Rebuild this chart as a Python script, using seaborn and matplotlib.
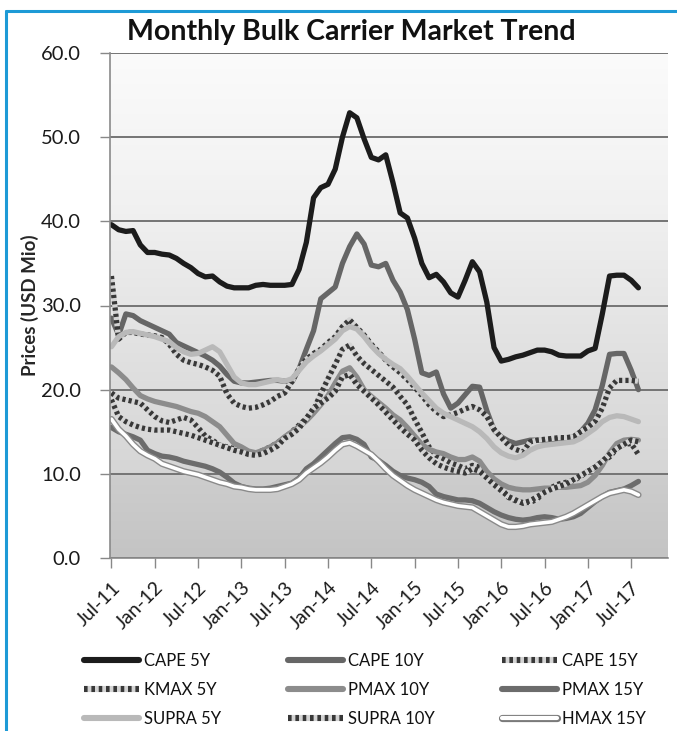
import numpy as np
import pandas as pd
import matplotlib
matplotlib.use("Agg")
import matplotlib.pyplot as plt
import seaborn as sns
from matplotlib import patheffects as pe
from matplotlib.lines import Line2D
from matplotlib.colors import LinearSegmentedColormap

# ---------------- data (USD Mio, monthly Jul-11 .. Aug-17) ----------------
month_labels = pd.date_range("2011-07-01", periods=74, freq="MS").strftime("%b-%y").tolist()
tick_labels = ["Jul-11", "Jan-12", "Jul-12", "Jan-13", "Jul-13", "Jan-14", "Jul-14",
               "Jan-15", "Jul-15", "Jan-16", "Jul-16", "Jan-17", "Jul-17"]

cape_5y = [39.6, 39.0, 38.8, 38.9, 37.2, 36.3, 36.3, 36.1, 36.0, 35.6,
           35.0, 34.5, 33.8, 33.4, 33.5, 32.8, 32.3, 32.1, 32.1, 32.1,
           32.4, 32.5, 32.4, 32.4, 32.4, 32.5, 34.3, 37.5, 42.8, 44.0,
           44.4, 46.2, 50.0, 52.9, 52.3, 49.8, 47.6, 47.3, 47.9, 44.6,
           41.0, 40.4, 38.0, 35.0, 33.3, 33.7, 32.8, 31.5, 31.0, 33.0,
           35.2, 34.0, 30.4, 25.0, 23.4, 23.6, 23.9, 24.1, 24.4, 24.7,
           24.7, 24.5, 24.1, 24.0, 24.0, 24.0, 24.6, 24.9, 29.0, 33.5,
           33.6, 33.6, 33.0, 32.1]
cape_10y = [28.5, 26.5, 29.0, 28.8, 28.2, 27.8, 27.4, 27.0, 26.6, 25.6,
            25.2, 24.8, 24.4, 24.0, 23.5, 22.8, 21.8, 21.0, 20.8, 20.8,
            20.9, 21.0, 21.1, 21.1, 21.0, 20.9, 22.5, 24.8, 27.0, 30.8,
            31.5, 32.2, 35.0, 37.0, 38.5, 37.3, 34.8, 34.6, 35.0, 33.0,
            31.6, 29.5, 26.0, 22.0, 21.7, 22.1, 19.5, 17.8, 18.4, 19.4,
            20.4, 20.3, 17.5, 15.2, 14.4, 13.9, 13.6, 13.8, 14.0, 14.0,
            14.0, 14.0, 14.1, 14.2, 14.4, 15.0, 16.0, 17.6, 20.5, 24.2,
            24.3, 24.3, 22.3, 20.0]
cape_15y = [19.6, 19.0, 18.8, 18.6, 18.4, 17.6, 16.8, 16.3, 16.1, 16.4,
            16.7, 16.4, 15.5, 14.5, 14.0, 13.4, 13.2, 13.0, 12.8, 12.5,
            12.4, 12.8, 13.2, 13.7, 14.3, 15.0, 15.8, 16.6, 17.6, 19.5,
            21.3, 23.0, 24.8, 25.3, 24.0, 23.1, 22.4, 21.7, 21.0, 20.3,
            19.2, 18.2, 16.5, 14.9, 13.2, 12.2, 11.8, 11.3, 11.0, 10.6,
            11.0, 10.8, 10.0, 9.2, 8.3, 7.2, 6.8, 6.6, 6.6, 7.0,
            8.0, 8.4, 8.8, 9.0, 9.2, 9.7, 10.3, 10.8, 11.5, 12.0,
            13.0, 13.5, 13.6, 12.3]
kmax_5y = [33.5, 26.0, 26.8, 26.8, 26.6, 26.5, 26.4, 26.2, 25.4, 24.2,
           23.5, 23.2, 23.0, 22.7, 22.3, 21.6, 19.5, 18.4, 18.0, 17.8,
           17.9, 18.2, 18.6, 19.2, 19.6, 21.0, 22.5, 23.6, 24.3, 24.8,
           25.6, 26.3, 27.5, 28.3, 27.4, 26.5, 25.4, 24.5, 23.5, 22.7,
           22.0, 21.2, 20.3, 19.3, 18.2, 17.4, 16.8, 17.0, 17.3, 17.7,
           18.0, 17.6, 16.8, 15.3, 14.3, 13.4, 12.9, 12.6, 13.8, 14.0,
           14.1, 14.2, 14.3, 14.3, 14.4, 15.0, 15.5, 16.2, 17.8, 20.2,
           21.1, 21.1, 21.1, 21.0]
pmax_10y = [22.7, 22.0, 21.2, 20.2, 19.3, 18.9, 18.6, 18.4, 18.2, 18.0,
            17.7, 17.4, 17.2, 16.8, 16.2, 15.6, 14.6, 13.6, 13.2, 12.7,
            12.5, 12.8, 13.2, 13.7, 14.4, 15.0, 15.6, 16.3, 17.2, 18.2,
            19.3, 20.8, 22.2, 22.6, 21.5, 20.0, 19.2, 18.5, 17.8, 17.0,
            16.4, 15.5, 14.5, 13.5, 12.9, 12.6, 12.4, 12.0, 11.7, 11.7,
            12.0, 11.5, 10.3, 9.4, 8.8, 8.4, 8.2, 8.1, 8.1, 8.2,
            8.3, 8.3, 8.4, 8.4, 8.5, 8.6, 9.0, 9.8, 11.0, 12.5,
            13.6, 14.0, 14.1, 14.0]
pmax_15y = [15.5, 15.0, 14.7, 14.4, 14.0, 12.8, 12.4, 12.1, 12.0, 11.8,
            11.5, 11.3, 11.1, 10.9, 10.6, 10.2, 9.6, 8.9, 8.5, 8.3,
            8.2, 8.2, 8.3, 8.5, 8.7, 8.9, 9.5, 10.6, 11.2, 12.0,
            12.8, 13.6, 14.3, 14.4, 14.1, 13.5, 12.0, 11.6, 11.0, 10.3,
            9.8, 9.5, 9.3, 9.0, 8.5, 7.6, 7.3, 7.1, 6.9, 6.9,
            6.8, 6.5, 6.0, 5.5, 5.1, 4.8, 4.6, 4.5, 4.6, 4.8,
            4.9, 4.8, 4.6, 4.7, 4.9, 5.3, 6.0, 6.7, 7.3, 7.8,
            8.0, 8.2, 8.6, 9.1]
supra_5y = [25.1, 26.3, 26.8, 26.9, 26.7, 26.5, 26.3, 26.0, 25.7, 25.0,
            24.5, 24.2, 24.3, 24.7, 25.1, 24.5, 23.0, 21.5, 20.8, 20.6,
            20.6, 20.8, 21.0, 21.2, 21.0, 21.3, 22.3, 23.3, 24.0, 24.6,
            25.3, 26.0, 27.0, 27.5, 27.2, 26.3, 25.2, 24.3, 23.6, 23.0,
            22.5, 21.6, 20.6, 19.6, 18.7, 17.8, 17.2, 16.8, 16.4, 16.0,
            15.6, 15.0, 14.2, 13.2, 12.5, 12.1, 11.9, 12.2, 12.8, 13.2,
            13.4, 13.5, 13.6, 13.7, 13.8, 14.2, 14.8, 15.4, 16.2, 16.7,
            16.9, 16.8, 16.5, 16.2]
supra_10y = [18.8, 16.8, 16.2, 15.8, 15.5, 15.3, 15.2, 15.2, 15.2, 15.0,
             14.8, 14.6, 14.3, 14.0, 13.7, 13.4, 13.1, 12.8, 12.6, 12.3,
             12.2, 12.4, 12.8, 13.3, 14.2, 14.7, 15.4, 16.6, 17.8, 18.4,
             19.0, 19.8, 21.5, 21.8, 20.6, 19.8, 19.0, 18.2, 17.3, 16.4,
             15.5, 14.7, 14.0, 12.8, 11.9, 11.2, 10.8, 10.5, 10.3, 10.1,
             10.6, 10.3, 9.5, 8.7, 8.0, 7.3, 6.9, 6.5, 6.8, 7.3,
             7.8, 8.2, 8.5, 8.8, 9.3, 9.8, 10.3, 10.8, 11.5, 12.3,
             13.0, 13.5, 14.0, 13.8]
hmax_15y = [16.5, 15.3, 14.5, 13.5, 12.7, 12.2, 11.8, 11.2, 10.9, 10.6,
            10.3, 10.1, 9.9, 9.6, 9.3, 9.0, 8.8, 8.5, 8.4, 8.2,
            8.1, 8.1, 8.1, 8.2, 8.5, 8.8, 9.3, 10.1, 10.7, 11.3,
            12.0, 12.8, 13.5, 13.7, 13.3, 12.8, 12.3, 11.5, 10.6, 9.8,
            9.2, 8.6, 8.1, 7.7, 7.3, 6.9, 6.6, 6.4, 6.2, 6.1,
            6.0, 5.5, 5.0, 4.5, 4.0, 3.7, 3.7, 3.8, 4.0, 4.1,
            4.2, 4.3, 4.6, 4.9, 5.3, 5.8, 6.3, 6.8, 7.3, 7.7,
            7.9, 8.1, 7.9, 7.5]

series = {
    "CAPE 5Y": cape_5y, "CAPE 10Y": cape_10y, "CAPE 15Y": cape_15y,
    "KMAX 5Y": kmax_5y, "PMAX 10Y": pmax_10y, "PMAX 15Y": pmax_15y,
    "SUPRA 5Y": supra_5y, "SUPRA 10Y": supra_10y, "HMAX 15Y": hmax_15y,
}

df = pd.DataFrame(series)
df["month"] = month_labels
df["idx"] = np.arange(len(df))

# ---------------- style ----------------
sns.set_theme(style="white")
plt.rcParams["font.family"] = ["Lato", "DejaVu Sans"]

DARK_HATCH = "#383838"
GAP = "#d4d4d4"
common = dict(solid_joinstyle="round", solid_capstyle="round")
hatch = dict(color=DARK_HATCH, lw=3.8, linestyle=(0, (0.6, 0.6)), gapcolor=GAP,
             dash_joinstyle="round")
white_fx = [pe.Stroke(linewidth=4.6, foreground="#8a8a8a"), pe.Normal()]
styles = {
    "CAPE 5Y": dict(color="#1c1c1c", lw=3.8, **common),
    "CAPE 10Y": dict(color="#666666", lw=3.8, **common),
    "CAPE 15Y": hatch,
    "KMAX 5Y": hatch,
    "PMAX 10Y": dict(color="#8c8c8c", lw=3.8, **common),
    "PMAX 15Y": dict(color="#6c6c6c", lw=3.8, **common),
    "SUPRA 5Y": dict(color="#b9b9b9", lw=3.8, **common),
    "SUPRA 10Y": hatch,
    "HMAX 15Y": dict(color="white", lw=2.6, **common, path_effects=white_fx),
}

W, H = 677, 731
fig = plt.figure(figsize=(W / 100, H / 100), dpi=100)
ax = fig.add_axes([110 / W, 1 - 558 / H, (668 - 110) / W, (558 - 53) / H])

x0, x1 = -0.2, 77.1
# background gradient of the plot area
cmap = LinearSegmentedColormap.from_list(
    "bg", [(0.0, "#c4c4c4"), (0.16, "#cdcdcd"), (0.17, "#d6d6d6"),
           (0.35, "#dedede"), (0.5, "#e6e6e6"), (0.7, "#f1f1f1"), (1.0, "#fbfbfb")])
grad = np.linspace(0, 1, 256).reshape(-1, 1)
ax.imshow(grad, extent=(x0, x1, 0, 60), aspect="auto", cmap=cmap,
          origin="lower", zorder=-5, interpolation="bicubic")

for name, vals in series.items():
    sns.lineplot(data=df, x="idx", y=name, ax=ax, label=name, **styles[name])

ax.set_xlim(x0, x1)
ax.set_ylim(0, 60)

ax.set_yticks(np.arange(0, 61, 10))
ax.set_yticklabels([f"{v:.1f}" for v in np.arange(0, 61, 10)], fontsize=14.5, color="#1a1a1a")
ax.set_xticks(np.arange(0, 73, 6))
ax.set_xticklabels(tick_labels, fontsize=14, rotation=45, ha="right",
                   rotation_mode="anchor", color="#1a1a1a")
ax.tick_params(axis="y", direction="out", length=7, width=1, color="#888888", pad=14, left=True)
ax.tick_params(axis="x", direction="out", length=7, width=1, color="#888888", pad=8, bottom=True)

ax.set_axisbelow(True)
ax.yaxis.grid(True, color="#747474", lw=1.4)
ax.xaxis.grid(False)
for s in ["top", "right"]:
    ax.spines[s].set_visible(False)
for s in ["left", "bottom"]:
    ax.spines[s].set_color("#8a8a8a")
    ax.spines[s].set_linewidth(1.2)

ax.set_xlabel("")
ax.set_ylabel("Prices (USD Mio)", fontsize=13.5, fontweight="bold")
ax.yaxis.set_label_coords(-(110 - 30) / (668 - 110), 0.5)
ax.yaxis.label.set_va("center")

fig.text(351 / W, 1 - 32 / H, "Monthly Bulk Carrier Market Trend", ha="center", va="center",
         fontsize=20.5, fontweight="bold", color="#111111")

# legend, row-major order in a 3-column layout
handles, labels = ax.get_legend_handles_labels()
hmap = dict(zip(labels, handles))
order = ["CAPE 5Y", "KMAX 5Y", "SUPRA 5Y",
         "CAPE 10Y", "PMAX 10Y", "SUPRA 10Y",
         "CAPE 15Y", "PMAX 15Y", "HMAX 15Y"]
leg = ax.legend([hmap[k] for k in order], order, ncol=3, loc="center",
                bbox_to_anchor=(365 / W, 1 - 690 / H), bbox_transform=fig.transFigure,
                frameon=False, fontsize=12, handlelength=3.3, handletextpad=0.3,
                columnspacing=4.0, labelspacing=0.78, borderpad=0.2)
for t in leg.get_texts():
    t.set_color("#111111")
for name, h in zip(order, leg.legend_handles):
    if name == "HMAX 15Y":
        h.set_linewidth(3.0)
        h.set_path_effects([pe.Stroke(linewidth=5.2, foreground="#7a7a7a"), pe.Normal()])
    else:
        h.set_linewidth(4.4)

# blue frame on the left and top
fig.add_artist(Line2D([6 / W, 6 / W], [0, 1 - 11 / H], transform=fig.transFigure,
                      color="#1d9ad6", lw=2.2))
fig.add_artist(Line2D([6 / W, 1], [1 - 11 / H, 1 - 11 / H], transform=fig.transFigure,
                      color="#1d9ad6", lw=2.2))

fig.savefig("out.png", dpi=100, facecolor="white")
